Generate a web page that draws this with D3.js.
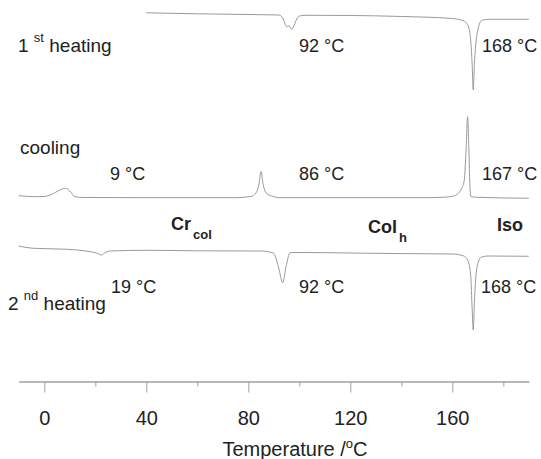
<!DOCTYPE html>
<html>
<head>
<meta charset="utf-8">
<script src="https://cdn.jsdelivr.net/npm/d3@7/dist/d3.min.js"></script>
<style>
  html, body { margin: 0; padding: 0; background: #fff; }
  svg { display: block; font-family: Arial, "Liberation Sans", Helvetica, sans-serif; }
</style>
</head>
<body>
<svg id="chart" width="541" height="459"></svg>
<script>
// DSC thermograms: temperature (°C) against heat flow (arbitrary units, runs offset vertically)

const heating1Temp = [40, 60, 85, 92, 93.5, 94.3, 95, 96, 97, 98, 99, 100, 103, 120, 140, 160, 164.2, 165.5, 166.5, 167.2, 167.8, 168.2, 168.7, 169.3, 170, 171, 172, 175, 190];
const heating1Flow = [96.8, 96.55, 96.33, 96.25, 95.5, 94.25, 93.33, 93.5, 92.68, 93.75, 95.25, 96.0, 96.18, 96.13, 95.88, 95.38, 94.83, 94.25, 93.0, 90.0, 83.75, 77.5, 84.5, 89.5, 92.5, 94.5, 95.0, 95.18, 95.18];

const coolingTemp = [-10, -4, 0, 2.3, 5, 7, 8.4, 10, 12, 15, 40, 75, 81, 83, 84.2, 85, 85.8, 87, 90, 92, 150, 158, 160.4, 162.4, 163.7, 164.7, 165.4, 166, 166.5, 166.9, 167.3, 170, 190];
const coolingFlow = [51.08, 50.83, 50.88, 51.25, 52.13, 52.75, 52.93, 52.25, 50.83, 50.63, 50.58, 50.58, 50.88, 51.75, 54.0, 57.08, 54.0, 51.75, 50.83, 50.58, 50.58, 50.75, 51.0, 51.68, 52.93, 55.0, 62.5, 70.83, 62.5, 53.75, 50.83, 50.68, 50.43];

const heating2Temp = [-10, -4.4, 8.9, 17.9, 20.5, 22.5, 24, 26, 40, 60, 85, 89.8, 91.8, 93.5, 94.8, 96.4, 100, 120, 140, 160, 164.5, 166, 167.2, 167.8, 168.2, 168.7, 169.3, 170.2, 171.5, 174, 190];
const heating2Flow = [38.5, 37.93, 37.68, 37.08, 36.75, 36.25, 36.88, 37.25, 37.43, 37.3, 37.25, 36.75, 33.33, 29.33, 33.33, 36.83, 36.88, 36.75, 36.6, 36.5, 36.0, 35.0, 31.25, 22.5, 17.5, 25.0, 31.25, 34.5, 35.75, 36.0, 35.93];

// Transition temperatures annotated beside each run
const heating1Transitions = [92, 168];
const coolingTransitions = [9, 86, 167];
const heating2Transitions = [19, 92, 168];

const majorTicks = [0, 40, 80, 120, 160];
const minorTicks = [20, 60, 100, 140, 180];
const phaseNames = [["Cr", "col"], ["Col", "h"], ["Iso", ""]];

const svg = d3.select("#chart");
const ink = "#222";
const traceColor = "#9a9a9a";
const axisColor = "#a0a0a0";

const x = d3.scaleLinear().domain([-10, 190]).range([18.8, 528.8]);
const y = d3.scaleLinear().domain([0, 100]).range([400, 0]);
const axisY = 381.5;

const line = d3.line()
  .x(d => x(d[0]))
  .y(d => y(d[1]))
  .curve(d3.curveMonotoneX);

const runs = [
  d3.zip(heating1Temp, heating1Flow),
  d3.zip(coolingTemp, coolingFlow),
  d3.zip(heating2Temp, heating2Flow)
];

svg.append("g").selectAll("path")
  .data(runs)
  .join("path")
  .attr("d", line)
  .attr("fill", "none")
  .attr("stroke", traceColor)
  .attr("stroke-width", 1);

// Temperature axis: labelled major ticks plus short unlabelled minor ticks
const major = svg.append("g")
  .attr("transform", `translate(0,${axisY})`)
  .call(d3.axisBottom(x).tickValues(majorTicks).tickSize(11).tickSizeOuter(0).tickPadding(18).tickFormat(d3.format("d")));
const minor = svg.append("g")
  .attr("transform", `translate(0,${axisY})`)
  .call(d3.axisBottom(x).tickValues(minorTicks).tickSize(5).tickSizeOuter(0).tickFormat(""));
[major, minor].forEach(g => {
  g.select(".domain").attr("stroke", axisColor);
  g.selectAll(".tick line").attr("stroke", axisColor);
});
major.selectAll(".tick text")
  .attr("fill", ink)
  .style("font-size", "20px")
  .style("font-family", "Arial, 'Liberation Sans', sans-serif");

const title = svg.append("text")
  .attr("x", 295).attr("y", 456)
  .attr("text-anchor", "middle")
  .attr("fill", ink)
  .style("font-size", "20px");
title.append("tspan").text("Temperature /");
title.append("tspan").attr("dy", -8).style("font-size", "13px").text("o");
title.append("tspan").attr("dy", 8).text("C");

// Run names with ordinal superscripts
function runName(px, py, num, sup, rest) {
  const t = svg.append("text").attr("x", px).attr("y", py).attr("fill", ink).style("font-size", "19px");
  if (num) t.append("tspan").text(num + " ");
  if (sup) t.append("tspan").attr("dy", -10).style("font-size", "13px").text(sup);
  t.append("tspan").attr("dy", sup ? 10 : 0).text(sup ? " " + rest : rest);
}
runName(18, 52, "1", "st", "heating");
runName(20, 154, "", "", "cooling");
runName(8, 310, "2", "nd", "heating");

// Transition temperature labels
function tempLabel(px, py, v) {
  svg.append("text").attr("x", px).attr("y", py).attr("fill", ink)
    .style("font-size", "18px").text(v + " °C");
}
const row1X = [299, 482];
heating1Transitions.forEach((v, i) => tempLabel(row1X[i], 52, v));
const row2X = [110, 299, 482];
coolingTransitions.forEach((v, i) => tempLabel(row2X[i], 180, v));
const row3X = [111, 299, 481];
heating2Transitions.forEach((v, i) => tempLabel(row3X[i], 293, v));

// Phase names between the cooling and second heating traces
const phaseX = [171, 368, 497];
const phaseY = [230, 233, 231];
phaseNames.forEach(([main, sub], i) => {
  const t = svg.append("text").attr("x", phaseX[i]).attr("y", phaseY[i])
    .attr("fill", ink).style("font-size", "18px").style("font-weight", "bold");
  t.append("tspan").text(main);
  if (sub) t.append("tspan").attr("dy", 9).attr("dx", 2).style("font-size", "13px").text(sub);
});
</script>
</body>
</html>
